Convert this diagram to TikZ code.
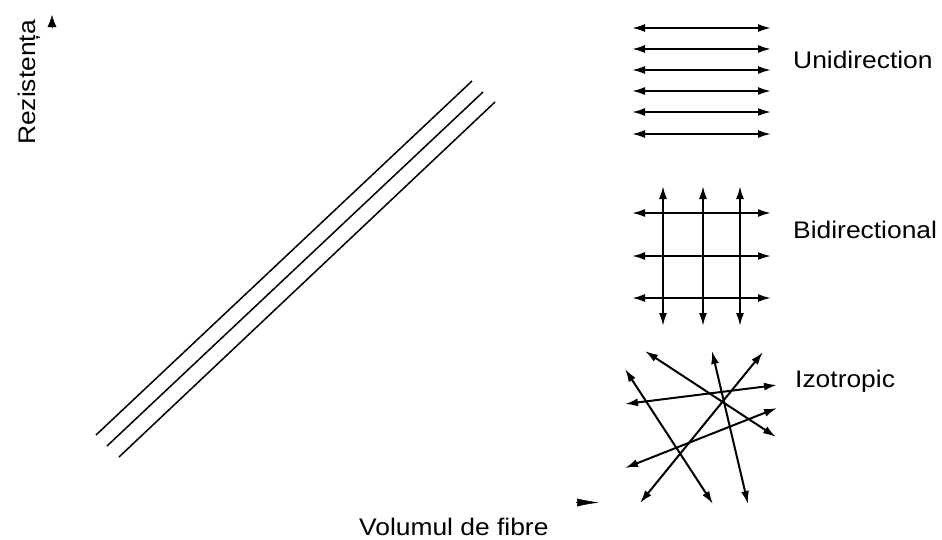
\documentclass[tikz,border=0pt]{standalone}
\usepackage{fontspec}
\setmainfont{Liberation Sans}[FakeStretch=1.1]
\usetikzlibrary{arrows.meta}
\tikzset{
  lbl/.style={inner sep=0pt, font=\fontsize{24}{28}\selectfont},
  fiber/.style={line width=2pt, {Latex[length=13pt,width=8pt]}-{Latex[length=13pt,width=8pt]}},
  trend/.style={line width=1.5pt},
}
\begin{document}
\begin{tikzpicture}[x=1pt,y=-1pt]
\useasboundingbox (0,0) rectangle (942,539);
% axes (only tips)
\coordinate (ya0) at (52,28);
\coordinate (ya1) at (52,15);
\draw[-{Latex[length=12pt,width=9pt]}, line width=0.5pt] (ya0) -- (ya1);
\coordinate (xa0) at (576,502.5);
\coordinate (xa1) at (599,502.5);
\draw[-{Latex[length=22pt,width=8pt]}, line width=0.5pt] (xa0) -- (xa1);
\node[lbl, rotate=90, anchor=base west] (ylab) at (35,145) {Rezistența};
\node[lbl, anchor=base west] (xlab) at (359,535) {Volumul de fibre};
% trend lines
\coordinate (a1) at (96,435);  \coordinate (b1) at (472,81);
\coordinate (a2) at (107,446); \coordinate (b2) at (483,92);
\coordinate (a3) at (119,457); \coordinate (b3) at (495,102);
\draw[trend] (a1) -- (b1);
\draw[trend] (a2) -- (b2);
\draw[trend] (a3) -- (b3);
% unidirection
\foreach \i/\y in {1/28,2/49,3/70,4/91,5/112,6/134}{
  \coordinate (ul\i) at (632,\y);
  \coordinate (ur\i) at (771,\y);
  \draw[fiber] (ul\i) -- (ur\i);
}
\node[lbl, anchor=base west] (uni) at (793,68) {Unidirection};
% bidirectional
\foreach \i/\y in {1/213,2/256,3/298}{
  \coordinate (bl\i) at (632,\y);
  \coordinate (br\i) at (771,\y);
  \draw[fiber] (bl\i) -- (br\i);
}
\foreach \i/\x in {1/663,2/703,3/740}{
  \coordinate (bt\i) at (\x,186);
  \coordinate (bb\i) at (\x,326);
  \draw[fiber] (bt\i) -- (bb\i);
}
\node[lbl, anchor=base west] (bid) at (793,238) {Bidirectional};
% isotropic
\coordinate (i1a) at (645,351); \coordinate (i1b) at (776,437);
\coordinate (i2a) at (712,351); \coordinate (i2b) at (748,504);
\coordinate (i3a) at (763,352); \coordinate (i3b) at (640,503);
\coordinate (i4a) at (625,369); \coordinate (i4b) at (713,504);
\coordinate (i5a) at (625,404); \coordinate (i5b) at (777,385);
\coordinate (i6a) at (625,468); \coordinate (i6b) at (777,408);
\foreach \i in {1,...,6}{ \draw[fiber] (i\i a) -- (i\i b); }
\node[lbl, anchor=base west] (izo) at (795,387) {Izotropic};
\end{tikzpicture}
\end{document}
